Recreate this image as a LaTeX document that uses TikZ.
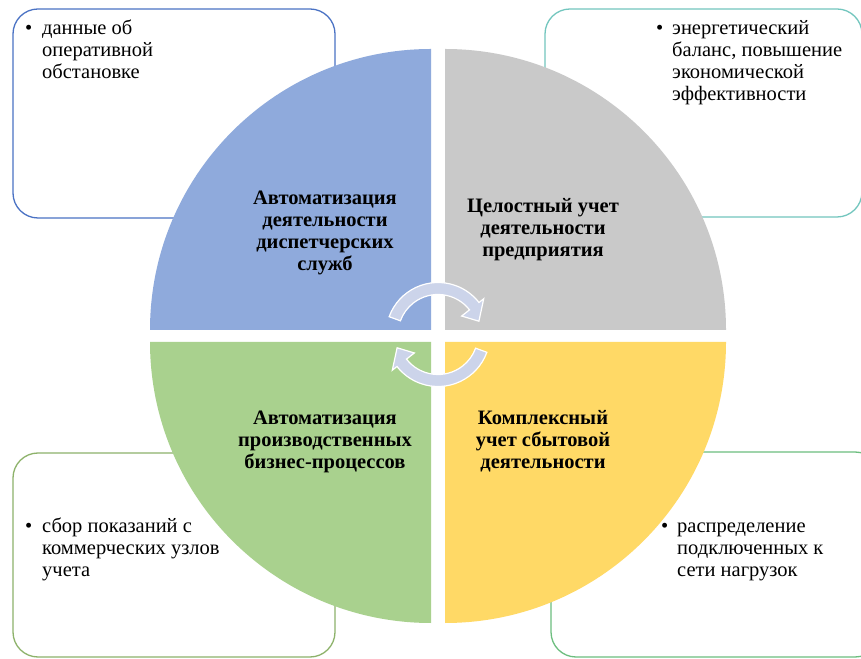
\documentclass[tikz,border=0pt]{standalone}
\usepackage{fontspec}
\setmainfont{Liberation Serif}
\newfontfamily\timesru{Liberation Serif}
\definecolor{qblue}{HTML}{8FAADC}
\definecolor{qgrey}{HTML}{C9C9C9}
\definecolor{qgreen}{HTML}{A9D18E}
\definecolor{qyellow}{HTML}{FFD966}
\definecolor{bblue}{HTML}{4A72C4}
\definecolor{bteal}{HTML}{72C6BE}
\definecolor{bolive}{HTML}{8DB26A}
\definecolor{bgreen}{HTML}{6DBE7F}
\definecolor{arrowfill}{HTML}{CCD4EA}
\begin{document}
\begin{tikzpicture}[x=1pt,y=1pt,
  infobox/.style={draw, line width=1.3pt, rounded corners=25pt, fill=white},
  bodytext/.style={anchor=base west, align=left, inner sep=0pt, font=\timesru\fontsize{20.5}{22}\selectfont},
  bulletmark/.style={anchor=base west, inner sep=0pt, font=\timesru\fontsize{20.5}{22}\selectfont},
  quadlabel/.style={anchor=base, align=center, inner sep=0pt, font=\timesru\fontsize{20.5}{22}\selectfont\bfseries},
  cycarrow/.style={fill=arrowfill, draw=white, line width=1.2pt}]
\useasboundingbox (0,0) rectangle (861,658);
\fill[white] (0,0) rectangle (861,658);

% information boxes
\draw[infobox, draw=bblue] (13,440) rectangle (335,649);
\draw[infobox, draw=bteal] (545,441) rectangle (862,649);
\draw[infobox, draw=bolive] (13,1) rectangle (335,205);
\draw[infobox, draw=bgreen] (551,1) rectangle (880,206);

% quadrants
\fill[qblue] (431,328) -- ++(-281,0) arc[start angle=180, end angle=90, radius=281] -- cycle;
\fill[qgrey] (445,328) -- ++(0,281) arc[start angle=90, end angle=0, radius=281] -- cycle;
\fill[qgreen] (431,316) -- ++(-281,0) arc[start angle=180, end angle=270, radius=281] -- cycle;
\fill[qyellow] (445,316) -- ++(281,0) arc[start angle=0, end angle=-90, radius=281] -- cycle;

% circular arrows
\begin{scope}[shift={(438,323.5)}]
  \path[cycarrow] (160:52) arc[start angle=160, end angle=38, radius=52]
    -- (38:58) -- (18:43) -- (38:30) -- (38:40)
    arc[start angle=38, end angle=160, radius=40] -- cycle;
  \begin{scope}[rotate=180]
  \path[cycarrow] (160:52) arc[start angle=160, end angle=38, radius=52]
    -- (38:58) -- (18:43) -- (38:30) -- (38:40)
    arc[start angle=38, end angle=160, radius=40] -- cycle;
  \end{scope}
\end{scope}

% quadrant labels (anchor = baseline of last line)
\node[quadlabel] (lblue) at (325,387) {Автоматизация\\деятельности\\диспетчерских\\служб};
\node[quadlabel] (lgrey) at (543,401) {Целостный учет\\деятельности\\предприятия};
\node[quadlabel] (lgreen) at (325,189) {Автоматизация\\производственных\\бизнес-процессов};
\node[quadlabel] (lyellow) at (543,189) {Комплексный\\учет сбытовой\\деятельности};

% box texts
\node[bulletmark] (b1) at (25,623) {•};
\node[bodytext] (t1) at (42,579) {данные об\\оперативной\\обстановке};
\node[bulletmark] (b2) at (656,623) {•};
\node[bodytext] (t2) at (672,557) {энергетический\\баланс, повышение\\экономической\\эффективности};
\node[bulletmark] (b3) at (25,125) {•};
\node[bodytext] (t3) at (42,81) {сбор показаний с\\коммерческих узлов\\учета};
\node[bulletmark] (b4) at (661,125) {•};
\node[bodytext] (t4) at (677,81) {распределение\\подключенных к\\сети нагрузок};
\end{tikzpicture}
\end{document}
